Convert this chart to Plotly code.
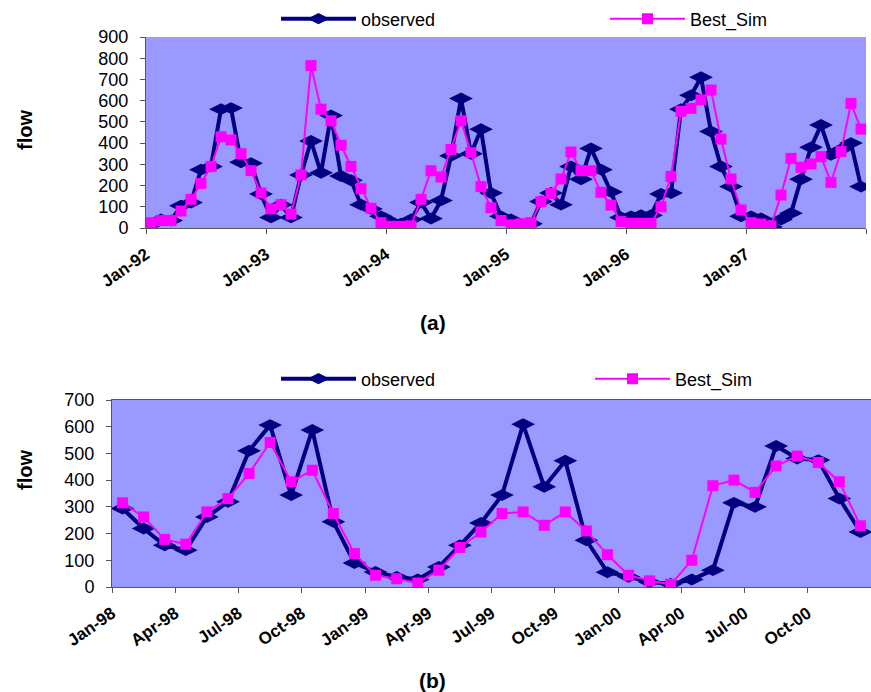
import plotly.graph_objects as go

# ---- data: chart (a), monthly Jan-92 .. Dec-97 ----
observed_a = [15, 40, 35, 105, 120, 275, 290, 560, 565, 310, 305, 160,
              50, 110, 50, 250, 410, 260, 530, 245, 225, 110, 90, 55,
              30, 20, 40, 120, 45, 130, 340, 610, 350, 465, 165, 55,
              40, 10, 20, 125, 165, 110, 290, 230, 375, 275, 170, 50,
              55, 60, 60, 160, 165, 560, 625, 710, 455, 290, 195, 55,
              55, 45, 5, 40, 70, 230, 380, 485, 345, 370, 400, 195]
best_sim_a = [25, 35, 35, 80, 135, 210, 290, 430, 415, 350, 270, 165,
              90, 110, 65, 250, 765, 560, 505, 390, 290, 185, 93, 25,
              8, 8, 10, 135, 270, 240, 370, 505, 355, 195, 95, 35,
              15, 20, 25, 124, 163, 231, 358, 270, 270, 168, 108, 30,
              22, 22, 22, 100, 243, 550, 564, 604, 650, 419, 231, 85,
              25, 19, 9, 155, 328, 286, 302, 336, 215, 360, 587, 466]
ticklabels_a = ["Jan-92", "Jan-93", "Jan-94", "Jan-95", "Jan-96", "Jan-97", ""]

# ---- data: chart (b), monthly Jan-98 .. Dec-00 ----
observed_b = [294, 219, 156, 138, 262, 319, 510, 606, 344, 588, 244, 90,
              56, 38, 28, 75, 156, 240, 344, 609, 375, 473, 175, 55,
              38, 19, 11, 28, 63, 315, 300, 528, 481, 475, 331, 206]
best_sim_b = [315, 262, 178, 160, 281, 331, 425, 541, 394, 437, 275, 125,
              44, 31, 15, 63, 148, 206, 275, 281, 231, 281, 210, 121,
              44, 23, 10, 100, 379, 400, 354, 453, 490, 466, 394, 229]
ticklabels_b = ["Jan-98", "Apr-98", "Jul-98", "Oct-98", "Jan-99", "Apr-99",
                "Jul-99", "Oct-99", "Jan-00", "Apr-00", "Jul-00", "Oct-00", ""]

W, H = 871, 692
FONT = "Arial, 'Liberation Sans', sans-serif"
NAVY = "#000080"
PINK = "#FF00FF"
PURPLE = "#9999FF"

fig = go.Figure()

xa = list(range(len(observed_a)))
xb = list(range(len(observed_b)))

obs_style = dict(mode="lines+markers", line=dict(color=NAVY, width=4),
                 marker=dict(symbol="diamond-wide", size=17, color=NAVY), showlegend=True)
sim_style = dict(mode="lines+markers", line=dict(color=PINK, width=2),
                 marker=dict(symbol="square", size=11, color=PINK), showlegend=True)

fig.add_trace(go.Scatter(x=xa, y=observed_a, name="observed", xaxis="x", yaxis="y",
                         legend="legend", legendgroup="a_obs", **obs_style))
fig.add_trace(go.Scatter(x=xa, y=best_sim_a, name="Best_Sim", xaxis="x", yaxis="y",
                         legend="legend2", legendgroup="a_sim", **sim_style))
fig.add_trace(go.Scatter(x=xb, y=observed_b, name="observed", xaxis="x2", yaxis="y2",
                         legend="legend3", legendgroup="b_obs", **obs_style))
fig.add_trace(go.Scatter(x=xb, y=best_sim_b, name="Best_Sim", xaxis="x2", yaxis="y2",
                         legend="legend4", legendgroup="b_sim", **sim_style))


def px_x(p):
    return p / W


def px_y(p):
    return 1 - p / H


axis_common = dict(showgrid=False, zeroline=False, showline=True, linecolor="#555555",
                   linewidth=1, ticks="outside", ticklen=5, tickcolor="#555555",
                   automargin=False)


def legend_at(xp, yp, iw):
    return dict(orientation="h", x=px_x(xp), y=px_y(yp), xanchor="left", yanchor="middle",
                font=dict(size=18), bgcolor="rgba(0,0,0,0)", itemwidth=iw,
                borderwidth=0, visible=True)


fig.update_layout(
    width=W, height=H,
    showlegend=True,
    margin=dict(l=0, r=0, t=0, b=0, autoexpand=False),
    paper_bgcolor="white",
    plot_bgcolor=PURPLE,
    font=dict(family=FONT, color="black"),
    xaxis=dict(domain=[px_x(146), px_x(866)], anchor="y", range=[-0.5, len(xa) - 0.5],
               tickmode="array", tickvals=[-0.5 + 12 * i for i in range(len(ticklabels_a))],
               ticktext=ticklabels_a, tickangle=-35, ticklabelstandoff=4,
               tickfont=dict(size=17, family=FONT, weight="bold"), **axis_common),
    yaxis=dict(domain=[px_y(228), px_y(37)], anchor="x", range=[0, 900], dtick=100,
               ticklabelstandoff=8, tickfont=dict(size=18), **axis_common),
    xaxis2=dict(domain=[px_x(112), px_x(871)], anchor="y2", range=[-0.5, len(xb) - 0.5],
                tickmode="array", tickvals=[-0.5 + 3 * i for i in range(len(ticklabels_b))],
                ticktext=ticklabels_b, tickangle=-35, mirror=True, ticklabelstandoff=4,
                tickfont=dict(size=17, family=FONT, weight="bold"), **axis_common),
    yaxis2=dict(domain=[px_y(587), px_y(400)], anchor="x2", range=[0, 700], dtick=100,
                ticklabelstandoff=8, tickfont=dict(size=18), **axis_common),
    legend=legend_at(276, 19, 75),
    legend2=legend_at(605, 19, 75),
    legend3=legend_at(276, 379, 75),
    legend4=legend_at(590, 379, 75),
    annotations=[
        dict(text="<b>flow</b>", x=px_x(25), y=px_y(130), xref="paper", yref="paper",
             xanchor="center", yanchor="middle",
             showarrow=False, textangle=-90, font=dict(size=20)),
        dict(text="<b>(a)</b>", x=px_x(433), y=px_y(322), xref="paper", yref="paper",
             xanchor="center", yanchor="middle",
             showarrow=False, font=dict(size=21)),
        dict(text="<b>flow</b>", x=px_x(25), y=px_y(470), xref="paper", yref="paper",
             xanchor="center", yanchor="middle",
             showarrow=False, textangle=-90, font=dict(size=20)),
        dict(text="<b>(b)</b>", x=px_x(432), y=px_y(680), xref="paper", yref="paper",
             xanchor="center", yanchor="middle",
             showarrow=False, font=dict(size=21)),
    ],
)

fig.write_html("out.html", config={"displayModeBar": False},
               post_script="document.body.style.margin='0';document.body.style.padding='0';")
